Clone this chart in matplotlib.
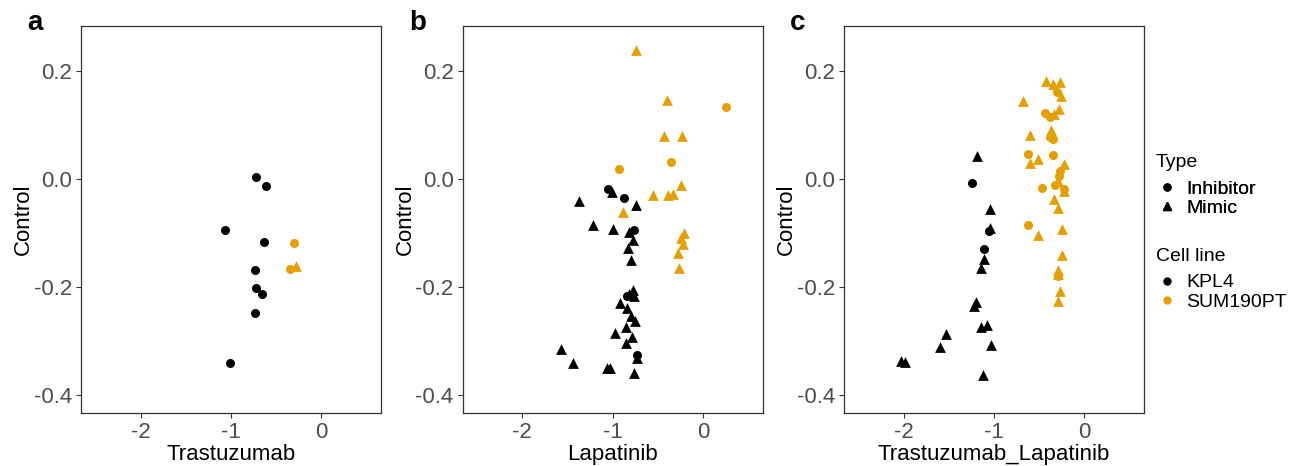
import matplotlib
matplotlib.use("Agg")
import matplotlib.pyplot as plt
from matplotlib.lines import Line2D

plt.rcParams['font.family'] = ['Liberation Sans', 'DejaVu Sans']

KPL4_COL = "#000000"
SUM_COL = "#E69F00"

# panel a: Trastuzumab vs Control
tras_x = [-0.720, -0.615, -1.063, -0.633, -0.730, -0.719, -0.656, -0.730, -1.011,
          -0.304, -0.344, -0.278]
tras_y = [0.004, -0.013, -0.095, -0.117, -0.169, -0.202, -0.212, -0.248, -0.340,
          -0.119, -0.167, -0.160]
tras_cell = ["KPL4"] * 9 + ["SUM190PT"] * 3
tras_type = ["Inhibitor"] * 11 + ["Mimic"]

# panel b: Lapatinib vs Control
lap_x = [-0.745, -0.399, 0.255, -0.435, -0.229, -0.358, -0.926, -0.240, -0.557,
         -0.384, -0.332, -0.889, -0.214, -0.240, -0.221, -0.277, -0.262,
         -1.052, -1.007, -0.875, -1.376, -0.745, -1.221, -0.996, -0.768, -0.819,
         -0.779, -0.830, -0.793, -0.779, -0.819, -0.768, -0.841, -0.915, -0.841,
         -0.793, -0.756, -0.970, -0.849, -0.790, -0.856, -0.734, -0.727, -1.568,
         -1.443, -1.063, -1.033, -0.768]
lap_y = [0.238, 0.146, 0.133, 0.080, 0.079, 0.032, 0.018, -0.011, -0.029,
         -0.029, -0.027, -0.061, -0.100, -0.109, -0.121, -0.136, -0.164,
         -0.018, -0.024, -0.035, -0.040, -0.048, -0.085, -0.093, -0.095, -0.099,
         -0.113, -0.127, -0.150, -0.206, -0.213, -0.216, -0.216, -0.230, -0.238,
         -0.253, -0.262, -0.285, -0.274, -0.293, -0.303, -0.325, -0.330, -0.315,
         -0.340, -0.349, -0.349, -0.358]
lap_cell = ["SUM190PT"] * 17 + ["KPL4"] * 31
lap_type = ["Mimic", "Mimic", "Inhibitor", "Mimic", "Mimic", "Inhibitor", "Inhibitor",
            "Mimic", "Mimic", "Mimic", "Mimic", "Mimic", "Mimic", "Mimic", "Mimic",
            "Mimic", "Mimic",
            "Inhibitor", "Mimic", "Inhibitor", "Mimic", "Mimic", "Mimic", "Mimic",
            "Inhibitor", "Mimic", "Mimic", "Mimic", "Mimic", "Mimic", "Mimic", "Mimic",
            "Inhibitor", "Mimic", "Mimic", "Mimic", "Mimic", "Mimic", "Mimic", "Mimic",
            "Mimic", "Inhibitor", "Mimic", "Mimic", "Mimic", "Mimic", "Mimic", "Mimic"]

# panel c: Trastuzumab_Lapatinib vs Control
comb_x = [-0.428, -0.347, -0.266, -0.303, -0.255, -0.679, -0.280, -0.439, -0.384,
          -0.340, -0.369, -0.376, -0.347, -0.598, -0.620, -0.605, -0.517, -0.351,
          -0.229, -0.273, -0.280, -0.288, -0.469, -0.325, -0.229, -0.221, -0.332,
          -0.288, -0.627, -0.509, -0.251, -0.244, -0.295, -0.288, -0.288, -0.266,
          -0.288,
          -1.192, -1.243, -1.041, -1.041, -1.059, -1.107, -1.107, -1.140, -1.196,
          -1.218, -1.074, -1.144, -1.528, -1.037, -1.594, -2.026, -1.989, -1.121]
comb_y = [0.181, 0.176, 0.179, 0.161, 0.153, 0.144, 0.130, 0.122, 0.115,
          0.120, 0.090, 0.078, 0.073, 0.081, 0.046, 0.030, 0.037, 0.044,
          0.028, 0.014, 0.005, -0.004, -0.017, -0.012, -0.019, -0.023, -0.037,
          -0.054, -0.086, -0.103, -0.092, -0.140, -0.168, -0.179, -0.176, -0.207,
          -0.225,
          0.043, -0.007, -0.056, -0.091, -0.096, -0.130, -0.148, -0.165, -0.227,
          -0.235, -0.269, -0.273, -0.286, -0.307, -0.311, -0.336, -0.338, -0.362]
comb_cell = ["SUM190PT"] * 37 + ["KPL4"] * 18
comb_type = ["Mimic", "Mimic", "Mimic", "Inhibitor", "Mimic", "Mimic", "Mimic",
             "Inhibitor", "Inhibitor", "Mimic", "Mimic", "Inhibitor", "Inhibitor",
             "Mimic", "Inhibitor", "Mimic", "Mimic", "Inhibitor", "Mimic",
             "Inhibitor", "Inhibitor", "Mimic", "Inhibitor", "Inhibitor", "Inhibitor",
             "Mimic", "Mimic", "Mimic", "Inhibitor", "Mimic", "Mimic", "Mimic",
             "Mimic", "Inhibitor", "Mimic", "Mimic", "Mimic",
             "Mimic", "Inhibitor", "Mimic", "Mimic", "Inhibitor", "Inhibitor",
             "Mimic", "Mimic", "Mimic", "Mimic", "Mimic", "Mimic", "Mimic", "Mimic",
             "Mimic", "Mimic", "Mimic", "Mimic"]

panels = [
    ("a", "Trastuzumab", tras_x, tras_y, tras_cell, tras_type),
    ("b", "Lapatinib", lap_x, lap_y, lap_cell, lap_type),
    ("c", "Trastuzumab_Lapatinib", comb_x, comb_y, comb_cell, comb_type),
]

colours = {"KPL4": KPL4_COL, "SUM190PT": SUM_COL}
shapes = {"Inhibitor": "o", "Mimic": "^"}
sizes = {"Inhibitor": 42, "Mimic": 60}

W, H = 1304, 466
fig = plt.figure(figsize=(W / 100, H / 100), dpi=100)

lefts = [81, 462.7, 844]
letter_x = [27, 409, 790]

for i, (letter, xlab, xs, ys, cells, types) in enumerate(panels):
    ax = fig.add_axes([lefts[i] / W, 53 / H, 300 / W, 387 / H])
    for x, y, c, t in zip(xs, ys, cells, types):
        ax.scatter(x, y, color=colours[c], marker=shapes[t], s=sizes[t],
                   linewidths=0, zorder=3)
    ax.set_xlim(-2.66, 0.66)
    ax.set_ylim(-0.4325, 0.2825)
    ax.set_xticks([-2, -1, 0])
    ax.set_xticklabels(["-2", "-1", "0"])
    ax.set_yticks([0.2, 0.0, -0.2, -0.4])
    ax.set_yticklabels(["0.2", "0.0", "-0.2", "-0.4"])
    ax.tick_params(labelsize=16, labelcolor="#4D4D4D", color="#333333",
                   length=3.5, width=0.8, pad=3)
    for sp in ax.spines.values():
        sp.set_color("#333333")
        sp.set_linewidth(0.9)
    ax.set_xlabel(xlab, fontsize=16, labelpad=1)
    ax.set_ylabel("Control", fontsize=16, labelpad=0)
    fig.text(letter_x[i] / W, 1 - 30 / H, letter, fontsize=20, fontweight="bold",
             va="baseline", ha="left")

type_handles = [
    Line2D([], [], marker="o", color="black", linestyle="none", markersize=5),
    Line2D([], [], marker="^", color="black", linestyle="none", markersize=6),
]
cell_handles = [
    Line2D([], [], marker="o", color=KPL4_COL, linestyle="none", markersize=5),
    Line2D([], [], marker="o", color=SUM_COL, linestyle="none", markersize=5),
]

# legend titles
fig.text(1156 / W, 1 - 166.7 / H, "Type", fontsize=14, va="baseline", ha="left")
fig.text(1156 / W, 1 - 260.7 / H, "Cell line", fontsize=14, va="baseline", ha="left")

leg_kw = dict(loc="center left", frameon=False, fontsize=14, labelspacing=0.1,
              handletextpad=0.5, handlelength=1.0, borderaxespad=0, borderpad=0)
leg1 = fig.legend(type_handles, ["Inhibitor", "Mimic"],
                  bbox_to_anchor=(1157 / W, 1 - 198.5 / H), **leg_kw)
leg2 = fig.legend(cell_handles, ["KPL4", "SUM190PT"],
                  bbox_to_anchor=(1157 / W, 1 - 292.4 / H), **leg_kw)
fig.add_artist(leg1)

fig.savefig("out.png", dpi=100)
